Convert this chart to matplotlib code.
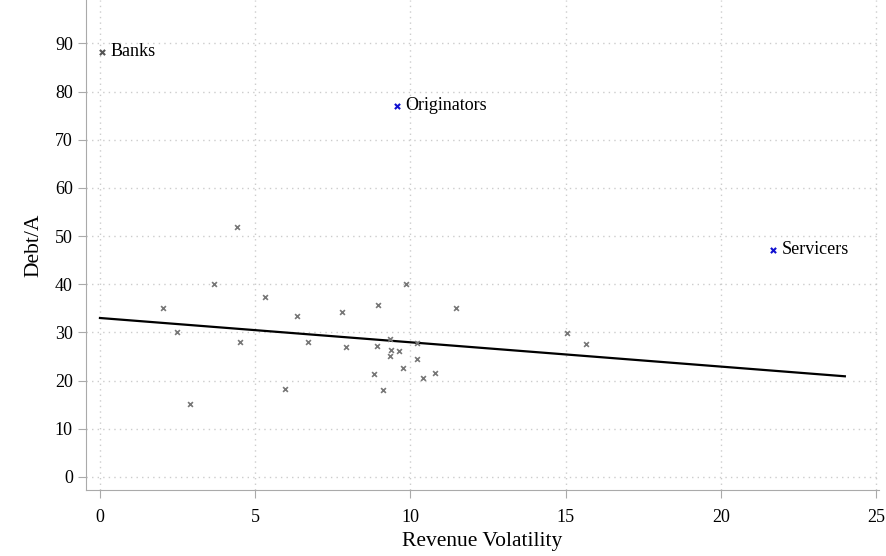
import matplotlib.pyplot as plt
import numpy as np

plt.rcParams['font.family'] = ['Liberation Serif', 'DejaVu Serif']

vol = [2.02, 2.47, 2.89, 3.66, 4.40, 4.52, 5.33, 5.97, 6.35, 6.71, 7.80, 7.93,
       8.83, 8.92, 8.96, 9.12, 9.34, 9.37, 9.34, 9.63, 9.76, 9.85, 10.2, 10.2,
       10.4, 10.78, 11.46, 15.05, 15.66]
debt = [35.1, 30.1, 15.2, 40.1, 51.8, 28.1, 37.3, 18.3, 33.5, 28.1, 34.3, 27.0,
        21.4, 27.2, 35.8, 18.1, 28.7, 26.4, 25.1, 26.2, 22.7, 40.1, 27.9, 24.5,
        20.6, 21.6, 35.1, 29.9, 27.6]

labels = ['Banks', 'Originators', 'Servicers']
lab_vol = [0.06, 9.56, 21.7]
lab_debt = [88.3, 77.1, 47.2]
lab_col = ['#555555', '#1010d0', '#1010d0']

fit_x = [0, 24]
fit_y = [33.0, 20.9]

fig = plt.figure(figsize=(8.86, 5.56), dpi=100)
ax = fig.add_axes([86/886, 66/556, 793/886, 490/556])

ax.scatter(vol, debt, marker='x', s=12, color='#777777', linewidths=1.2, zorder=3)
for n, x, y, c in zip(labels, lab_vol, lab_debt, lab_col):
    ax.scatter([x], [y], marker='x', s=14, color=c, linewidths=1.5, zorder=3)
    ax.annotate(n, (x, y), xytext=(6, 0), textcoords='offset points',
                va='center', fontsize=13)
ax.plot(fit_x, fit_y, color='black', lw=1.6, zorder=2)

ax.set_xlim(-0.45, 25.1)
ax.set_ylim(-2.7, 99)
ax.set_xticks(range(0, 26, 5))
ax.set_yticks(range(0, 91, 10))
ax.grid(True, color='#cccccc', linestyle=(0, (1, 3)), lw=1)
for s in ['top', 'right']:
    ax.spines[s].set_visible(False)
for s in ['left', 'bottom']:
    ax.spines[s].set_color('#aaaaaa')
ax.tick_params(colors='#aaaaaa', labelcolor='black', labelsize=13, direction='out', length=6)
ax.tick_params(axis='x', pad=8)
ax.set_xlabel('Revenue Volatility', fontsize=15.5, labelpad=4)
ax.set_ylabel('Debt/A', fontsize=15.5, labelpad=8)

fig.savefig('out.png')
